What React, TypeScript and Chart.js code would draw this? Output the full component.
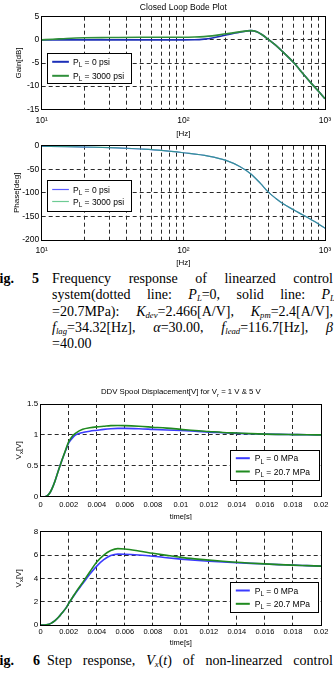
import React, { useEffect, useRef } from 'react';
import { Chart, registerables } from 'chart.js';

Chart.register(...registerables);

const SANS = '"Liberation Sans", Arial, Helvetica, sans-serif';
const SERIF = '"Liberation Serif", "Times New Roman", Times, serif';
const GRID_COLOR = '#2a2a2a';
const DASH_ON = 4;
const DASH_OFF = 3;

// ---------- Bode plot data ----------
const gainFreq = [10, 12, 15, 20, 30, 50, 80, 100, 120, 140, 160, 200, 250, 300, 330, 360, 400, 450, 500, 600, 700, 800, 900, 1000];
const gain0psi = [0, 0, 0, 0, 0, 0, 0, 0, 0.02, 0.15, 0.4, 1.05, 1.65, 2.0, 1.75, 1.1, 0.05, -1.2, -2.5, -4.9, -7.3, -9.4, -11.1, -12.7];
const gain3000psi = [0, 0.12, 0.3, 0.45, 0.5, 0.55, 0.55, 0.55, 0.6, 0.7, 0.85, 1.3, 1.72, 2.0, 1.75, 1.1, 0.05, -1.2, -2.5, -4.9, -7.3, -9.4, -11.1, -12.7];

const phaseFreq = [10, 15, 20, 30, 40, 50, 70, 100, 150, 200, 250, 300, 350, 400, 450, 500, 600, 700, 800, 900, 1000];
const phase0psi = [-1.5, -2.2, -3, -4, -5.5, -7, -10, -15, -22, -31, -44, -60, -80, -99, -112, -122, -136, -147, -157, -166, -175];
const phase3000psi = [-1.2, -2, -2.8, -3.9, -5.4, -7, -10, -15, -22, -31, -44, -60, -80, -99, -112, -122, -136, -147, -157, -166, -175];

const logGridTicks = [10, 20, 30, 40, 50, 60, 70, 80, 90, 100, 200, 300, 400, 500, 600, 700, 800, 900, 1000];
const logLabelValues = [10, 100, 1000];
const logTickLabels = ['10\u00B9', '10\u00B2', '10\u00B3'];
const gainTicks = [-15, -10, -5, 0, 5];
const gainTickLabels = ['-15', '-10', '-5', '0', '5'];
const phaseTicks = [-200, -150, -100, -50, 0];
const phaseTickLabels = ['-200', '-150', '-100', '-50', '0'];

// ---------- Step response data ----------
const time = [0, 0.0003, 0.0005, 0.0007, 0.001, 0.0013, 0.0015, 0.0018, 0.002, 0.0023, 0.0025, 0.003, 0.0035, 0.004, 0.0045, 0.005, 0.0055, 0.006, 0.007, 0.008, 0.009, 0.01, 0.011, 0.012, 0.013, 0.014, 0.015, 0.016, 0.017, 0.018, 0.019, 0.02];
const vx1V0MPa = [0, 0, 0.02, 0.08, 0.24, 0.45, 0.58, 0.76, 0.87, 0.96, 1.0, 1.04, 1.06, 1.075, 1.09, 1.1, 1.105, 1.105, 1.1, 1.09, 1.08, 1.07, 1.06, 1.045, 1.035, 1.025, 1.018, 1.012, 1.008, 1.005, 1.002, 1.0];
const vx1V207MPa = [0, 0, 0.02, 0.08, 0.24, 0.45, 0.58, 0.77, 0.89, 0.99, 1.03, 1.09, 1.115, 1.13, 1.14, 1.15, 1.152, 1.15, 1.14, 1.125, 1.11, 1.09, 1.07, 1.055, 1.04, 1.03, 1.02, 1.012, 1.008, 1.005, 1.002, 1.0];
const vx5V0MPa = [0, 0, 0.03, 0.12, 0.35, 0.7, 1.0, 1.45, 1.85, 2.4, 2.75, 3.55, 4.35, 5.05, 5.6, 5.95, 6.08, 6.07, 6.0, 5.9, 5.77, 5.65, 5.55, 5.47, 5.4, 5.34, 5.28, 5.23, 5.18, 5.13, 5.09, 5.05];
const vx5V207MPa = [0, 0, 0.03, 0.12, 0.35, 0.7, 1.0, 1.45, 1.85, 2.42, 2.8, 3.65, 4.55, 5.4, 6.0, 6.38, 6.55, 6.52, 6.35, 6.15, 5.97, 5.8, 5.67, 5.56, 5.46, 5.38, 5.3, 5.24, 5.18, 5.13, 5.09, 5.05];

const timeTicks = [0, 0.002, 0.004, 0.006, 0.008, 0.01, 0.012, 0.014, 0.016, 0.018, 0.02];
const timeTickLabels = ['0', '0.002', '0.004', '0.006', '0.008', '0.01', '0.012', '0.014', '0.016', '0.018', '0.02'];
const vx1Ticks = [0, 0.5, 1, 1.5];
const vx1TickLabels = ['0', '0.5', '1', '1.5'];
const vx5Ticks = [0, 2, 4, 6, 8];
const vx5TickLabels = ['0', '2', '4', '6', '8'];

// ---------- helpers ----------
type Seg = { t: string; sub: boolean };
function parseRich(text: string): Seg[] {
  const segs: Seg[] = [];
  let buf = '';
  for (let i = 0; i < text.length; i++) {
    if (text[i] === '_' && i + 1 < text.length) {
      if (buf) segs.push({ t: buf, sub: false });
      buf = '';
      segs.push({ t: text[i + 1], sub: true });
      i++;
    } else buf += text[i];
  }
  if (buf) segs.push({ t: buf, sub: false });
  return segs;
}

function drawRich(ctx: CanvasRenderingContext2D, text: string, x: number, baseline: number, size: number, align: 'left' | 'center' | 'right', color = '#000') {
  const segs = parseRich(text);
  const subSize = size * 0.75;
  let total = 0;
  const widths = segs.map((s) => {
    ctx.font = `${s.sub ? subSize : size}px ${SANS}`;
    const w = ctx.measureText(s.t).width;
    total += w;
    return w;
  });
  let cx = align === 'left' ? x : align === 'center' ? x - total / 2 : x - total;
  ctx.fillStyle = color;
  ctx.textAlign = 'left';
  ctx.textBaseline = 'alphabetic';
  segs.forEach((s, i) => {
    ctx.font = `${s.sub ? subSize : size}px ${SANS}`;
    ctx.fillText(s.t, cx, baseline + (s.sub ? size * 0.3 : 0));
    cx += widths[i];
  });
}

function addDashed(ctx: CanvasRenderingContext2D, x1: number, y1: number, x2: number, y2: number) {
  const len = Math.hypot(x2 - x1, y2 - y1);
  if (!(len > 0)) return;
  const ux = (x2 - x1) / len;
  const uy = (y2 - y1) / len;
  for (let d = 0; d < len; d += DASH_ON + DASH_OFF) {
    const e = Math.min(d + DASH_ON, len);
    ctx.moveTo(x1 + ux * d, y1 + uy * d);
    ctx.lineTo(x1 + ux * e, y1 + uy * e);
  }
}

type DS = { label: string; xs: number[]; ys: number[]; color: string; width: number; order: number };
type Spec = {
  top: number;
  height: number;
  area: { left: number; right: number; top: number; bottom: number };
  xType: 'logarithmic' | 'linear';
  xMin: number;
  xMax: number;
  xTicks: number[];
  xLabel: (v: number) => string;
  xTickPad: number;
  xFont: number;
  yMin: number;
  yMax: number;
  yTicks: number[];
  yLabel: (v: number) => string;
  yFont: number;
  datasets: DS[];
  title?: { text: string; dy: number; size: number };
  xTitle: { text: string; dy: number; size: number };
  yTitle: { text: string; x: number; size: number };
  legend: {
    anchor: 'topleft' | 'bottomright';
    dx: number;
    dy: number;
    w: number;
    h: number;
    rows: number[];
    lineStart: number;
    lineLen: number;
    textX: number;
    size: number;
    lineWidth: number;
  };
};

const labelFrom = (values: number[], labels: string[]) => (v: number) => {
  const i = values.indexOf(v);
  return i >= 0 ? labels[i] : '';
};

const al = (p: number) => Math.round(p - 0.5) + 0.5;

function makeOverlay(s: Spec) {
  return {
    id: 'figOverlay',
    afterDraw(chart: any) {
      const ctx: CanvasRenderingContext2D = chart.ctx;
      const ca = chart.chartArea;
      const xs = chart.scales.x;
      const ys = chart.scales.y;

      // dashed grid at the library's tick positions, painted underneath the curves
      ctx.save();
      ctx.globalCompositeOperation = 'destination-over';
      ctx.strokeStyle = GRID_COLOR;
      ctx.lineWidth = 1;
      ctx.beginPath();
      s.xTicks.forEach((v) => {
        const px = al(xs.getPixelForValue(v));
        addDashed(ctx, px, ca.top, px, ca.bottom);
      });
      s.yTicks.forEach((v) => {
        const py = al(ys.getPixelForValue(v));
        addDashed(ctx, ca.left, py, ca.right, py);
      });
      ctx.stroke();
      ctx.restore();

      ctx.save();
      ctx.strokeStyle = '#000';
      ctx.lineWidth = 1;
      ctx.strokeRect(al(ca.left), al(ca.top), al(ca.right) - al(ca.left), al(ca.bottom) - al(ca.top));
      const cx = (ca.left + ca.right) / 2;
      if (s.title) drawRich(ctx, s.title.text, cx, ca.top - s.title.dy + s.title.size * 0.36, s.title.size, 'center');
      drawRich(ctx, s.xTitle.text, cx, ca.bottom + s.xTitle.dy + s.xTitle.size * 0.36, s.xTitle.size, 'center');
      ctx.save();
      ctx.translate(s.yTitle.x, (ca.top + ca.bottom) / 2);
      ctx.rotate(-Math.PI / 2);
      drawRich(ctx, s.yTitle.text, 0, s.yTitle.size * 0.36, s.yTitle.size, 'center');
      ctx.restore();

      const L = s.legend;
      let bl: number, bt: number;
      if (L.anchor === 'topleft') {
        bl = ca.left + L.dx;
        bt = ca.top + L.dy;
      } else {
        bl = ca.right - L.dx - L.w;
        bt = ca.bottom - L.dy - L.h;
      }
      bl = al(bl);
      bt = al(bt);
      ctx.fillStyle = '#fff';
      ctx.fillRect(bl, bt, L.w, L.h);
      ctx.strokeStyle = '#000';
      ctx.lineWidth = 1;
      ctx.strokeRect(bl, bt, Math.round(L.w), Math.round(L.h));
      chart.data.datasets.forEach((d: any, i: number) => {
        const y = bt + L.rows[i];
        ctx.strokeStyle = d.borderColor;
        ctx.lineWidth = L.lineWidth;
        ctx.beginPath();
        ctx.moveTo(bl + L.lineStart, y);
        ctx.lineTo(bl + L.lineStart + L.lineLen, y);
        ctx.stroke();
        drawRich(ctx, d.label, bl + L.textX, y + L.size * 0.36, L.size, 'left');
      });
      ctx.restore();
    },
  };
}

function buildConfig(s: Spec): any {
  const W = 334;
  return {
    type: 'line',
    data: {
      datasets: s.datasets.map((d) => ({
        label: d.label,
        data: d.xs.map((x, i) => ({ x, y: d.ys[i] })),
        borderColor: d.color,
        backgroundColor: d.color,
        borderWidth: d.width,
        order: d.order,
        pointRadius: 0,
        fill: false,
        cubicInterpolationMode: 'monotone',
      })),
    },
    options: {
      animation: false,
      responsive: false,
      maintainAspectRatio: false,
      events: [],
      layout: { padding: { left: 0, top: s.area.top, right: W - s.area.right, bottom: 0 } },
      plugins: { legend: { display: false }, title: { display: false }, tooltip: { enabled: false } },
      scales: {
        x: {
          type: s.xType,
          position: 'bottom',
          min: s.xMin,
          max: s.xMax,
          afterBuildTicks: (sc: any) => {
            sc.ticks = s.xTicks.map((v) => ({ value: v }));
          },
          afterFit: (sc: any) => {
            sc.height = s.height - s.area.bottom;
            sc.paddingLeft = 0;
            sc.paddingRight = 0;
          },
          ticks: {
            autoSkip: false,
            maxRotation: 0,
            minRotation: 0,
            padding: s.xTickPad,
            color: '#000',
            font: { family: SANS, size: s.xFont },
            callback: (v: number) => s.xLabel(v),
          },
          grid: { display: false, drawTicks: false },
          border: { display: false },
        },
        y: {
          type: 'linear',
          position: 'left',
          min: s.yMin,
          max: s.yMax,
          afterBuildTicks: (sc: any) => {
            sc.ticks = s.yTicks.map((v) => ({ value: v }));
          },
          afterFit: (sc: any) => {
            sc.width = s.area.left;
            sc.paddingTop = 0;
            sc.paddingBottom = 0;
          },
          ticks: {
            autoSkip: false,
            padding: 2.5,
            color: '#000',
            font: { family: SANS, size: s.yFont },
            callback: (v: number) => s.yLabel(v),
          },
          grid: { display: false, drawTicks: false },
          border: { display: false },
        },
      },
    },
    plugins: [makeOverlay(s)],
  };
}

// ---------- chart specs ----------
const gainSpec: Spec = {
  top: 0,
  height: 140,
  area: { left: 41.7, right: 325, top: 16.7, bottom: 109.3 },
  xType: 'logarithmic',
  xMin: 10,
  xMax: 1000,
  xTicks: logGridTicks,
  xLabel: labelFrom(logLabelValues, logTickLabels),
  xTickPad: 6.6,
  xFont: 8.5,
  yMin: -15,
  yMax: 5,
  yTicks: gainTicks,
  yLabel: labelFrom(gainTicks, gainTickLabels),
  yFont: 8.5,
  datasets: [
    { label: 'P_L = 0 psi', xs: gainFreq, ys: gain0psi, color: '#1c2fb8', width: 1.6, order: 2 },
    { label: 'P_L = 3000 psi', xs: gainFreq, ys: gain3000psi, color: '#2f8f3a', width: 1.6, order: 1 },
  ],
  title: { text: 'Closed Loop Bode Plot', dy: 9.8, size: 8.5 },
  xTitle: { text: '[Hz]', dy: 23.4, size: 8 },
  yTitle: { text: 'Gain[dB]', x: 17.8, size: 8 },
  legend: { anchor: 'topleft', dx: 5.3, dy: 36.3, w: 84, h: 30, rows: [8.3, 22.3], lineStart: 4.7, lineLen: 16.7, textX: 25.5, size: 8.5, lineWidth: 2 },
};

const phaseSpec: Spec = {
  top: 140,
  height: 130,
  area: { left: 41.7, right: 325, top: 5.7, bottom: 100 },
  xType: 'logarithmic',
  xMin: 10,
  xMax: 1000,
  xTicks: logGridTicks,
  xLabel: labelFrom(logLabelValues, logTickLabels),
  xTickPad: 6,
  xFont: 8.5,
  yMin: -200,
  yMax: 0,
  yTicks: phaseTicks,
  yLabel: labelFrom(phaseTicks, phaseTickLabels),
  yFont: 8.5,
  datasets: [
    { label: 'P_L = 0 psi', xs: phaseFreq, ys: phase0psi, color: '#5a5aff', width: 1.2, order: 2 },
    { label: 'P_L = 3000 psi', xs: phaseFreq, ys: phase3000psi, color: 'rgba(30,175,90,0.65)', width: 1.2, order: 1 },
  ],
  xTitle: { text: '[Hz]', dy: 21.7, size: 8 },
  yTitle: { text: 'Phase[deg]', x: 16.5, size: 8 },
  legend: { anchor: 'topleft', dx: 5.3, dy: 34.3, w: 84, h: 31, rows: [9, 21], lineStart: 4.7, lineLen: 16.7, textX: 25.5, size: 8.5, lineWidth: 1.2 },
};

const step1Spec: Spec = {
  top: 380,
  height: 140,
  area: { left: 40.7, right: 321, top: 24, bottom: 116.7 },
  xType: 'linear',
  xMin: 0,
  xMax: 0.02,
  xTicks: timeTicks,
  xLabel: labelFrom(timeTicks, timeTickLabels),
  xTickPad: 3.6,
  xFont: 7.5,
  yMin: 0,
  yMax: 1.5,
  yTicks: vx1Ticks,
  yLabel: labelFrom(vx1Ticks, vx1TickLabels),
  yFont: 8,
  datasets: [
    { label: 'P_L = 0 MPa', xs: time, ys: vx1V0MPa, color: '#3b3bff', width: 1.6, order: 2 },
    { label: 'P_L = 20.7 MPa', xs: time, ys: vx1V207MPa, color: '#1f8a1f', width: 1.6, order: 1 },
  ],
  title: { text: 'DDV Spool Displacement[V] for V_r = 1 V & 5 V', dy: 12.5, size: 7.8 },
  xTitle: { text: 'time[s]', dy: 19.3, size: 7.5 },
  yTitle: { text: 'V_x[V]', x: 18, size: 8 },
  legend: { anchor: 'bottomright', dx: 1, dy: 16, w: 89.3, h: 30, rows: [7.7, 21], lineStart: 5.3, lineLen: 14, textX: 24.3, size: 8.5, lineWidth: 2 },
};

const step5Spec: Spec = {
  top: 520,
  height: 130,
  area: { left: 40.7, right: 321, top: 11.7, bottom: 105 },
  xType: 'linear',
  xMin: 0,
  xMax: 0.02,
  xTicks: timeTicks,
  xLabel: labelFrom(timeTicks, timeTickLabels),
  xTickPad: 2.8,
  xFont: 7.5,
  yMin: 0,
  yMax: 8,
  yTicks: vx5Ticks,
  yLabel: labelFrom(vx5Ticks, vx5TickLabels),
  yFont: 8,
  datasets: [
    { label: 'P_L = 0 MPa', xs: time, ys: vx5V0MPa, color: '#3b3bff', width: 1.6, order: 2 },
    { label: 'P_L = 20.7 MPa', xs: time, ys: vx5V207MPa, color: '#1f8a1f', width: 1.6, order: 1 },
  ],
  xTitle: { text: 'time[s]', dy: 17.7, size: 7.5 },
  yTitle: { text: 'V_x[V]', x: 18, size: 8 },
  legend: { anchor: 'bottomright', dx: 2.7, dy: 12.3, w: 87.6, h: 30.4, rows: [8, 21.3], lineStart: 5.3, lineLen: 14, textX: 24.3, size: 8.5, lineWidth: 2 },
};

function ChartCanvas({ spec }: { spec: Spec }) {
  const ref = useRef<HTMLCanvasElement>(null);
  useEffect(() => {
    const canvas = ref.current;
    if (!canvas) return;
    const chart = new Chart(canvas, buildConfig(spec));
    return () => chart.destroy();
  }, [spec]);
  return (
    <canvas
      ref={ref}
      width={334}
      height={spec.height}
      style={{ position: 'absolute', left: 0, top: spec.top, width: 334, height: spec.height, display: 'block' }}
    />
  );
}

// ---------- caption helpers ----------
const subStyle: React.CSSProperties = { fontSize: '0.62em', verticalAlign: '-0.28em', lineHeight: 0 };
const Sub = ({ children }: { children: React.ReactNode }) => <sub style={subStyle}>{children}</sub>;

const CAP_SIZE = 14;
const CAP_LH = 16.2;
const BASE_OFF = 12.8;

function JLine({ left, right, baseline, words }: { left: number; right: number; baseline: number; words: React.ReactNode[] }) {
  return (
    <div
      style={{
        position: 'absolute',
        left,
        top: baseline - BASE_OFF,
        width: right - left,
        display: 'flex',
        justifyContent: 'space-between',
        alignItems: 'baseline',
        whiteSpace: 'nowrap',
        fontFamily: SERIF,
        fontSize: CAP_SIZE,
        lineHeight: `${CAP_LH}px`,
        color: '#000',
      }}
    >
      {words.map((w, i) => (
        <span key={i}>{w}</span>
      ))}
    </div>
  );
}

function Word({ left, baseline, children, bold }: { left: number; baseline: number; children: React.ReactNode; bold?: boolean }) {
  return (
    <div
      style={{
        position: 'absolute',
        left,
        top: baseline - BASE_OFF,
        whiteSpace: 'nowrap',
        fontFamily: SERIF,
        fontSize: CAP_SIZE,
        lineHeight: `${CAP_LH}px`,
        fontWeight: bold ? 'bold' : 'normal',
        color: '#000',
      }}
    >
      {children}
    </div>
  );
}

export default function App() {
  const b1 = 284;
  const step = 16.2;
  return (
    <div style={{ position: 'absolute', left: 0, top: 0, width: 334, height: 673, overflow: 'hidden', background: '#fff' }}>
      <ChartCanvas spec={gainSpec} />
      <ChartCanvas spec={phaseSpec} />

      <Word left={-9} baseline={b1} bold>Fig.</Word>
      <Word left={32} baseline={b1} bold>5</Word>
      <JLine left={52} right={333} baseline={b1} words={['Frequency', 'response', 'of', 'linearzed', 'control']} />
      <JLine
        left={52}
        right={335}
        baseline={b1 + step}
        words={[
          'system(dotted',
          'line:',
          <>
            <i>P</i><Sub><i>L</i></Sub>=0,
          </>,
          'solid',
          'line:',
          <>
            <i>P</i><Sub><i>L</i></Sub>
          </>,
        ]}
      />
      <JLine
        left={52}
        right={333}
        baseline={b1 + step * 2}
        words={[
          '=20.7MPa):',
          <>
            <i>K</i><Sub><i>dev</i></Sub>=2.466[A/V],
          </>,
          <>
            <i>K</i><Sub><i>pm</i></Sub>=2.4[A/V],
          </>,
        ]}
      />
      <JLine
        left={52}
        right={333}
        baseline={b1 + step * 3}
        words={[
          <>
            <i>f</i><Sub><i>lag</i></Sub>=34.32[Hz],
          </>,
          <>
            <i>α</i>=30.00,
          </>,
          <>
            <i>f</i><Sub><i>lead</i></Sub>=116.7[Hz],
          </>,
          <i>β</i>,
        ]}
      />
      <Word left={52} baseline={b1 + step * 4}>=40.00</Word>

      <ChartCanvas spec={step1Spec} />
      <ChartCanvas spec={step5Spec} />

      <Word left={-9} baseline={666} bold>Fig.</Word>
      <Word left={33} baseline={666} bold>6</Word>
      <JLine
        left={47}
        right={333}
        baseline={666}
        words={[
          'Step',
          'response,',
          <>
            <i>V</i><Sub><i>x</i></Sub>(<i>t</i>)
          </>,
          'of',
          'non-linearzed',
          'control',
        ]}
      />
    </div>
  );
}
